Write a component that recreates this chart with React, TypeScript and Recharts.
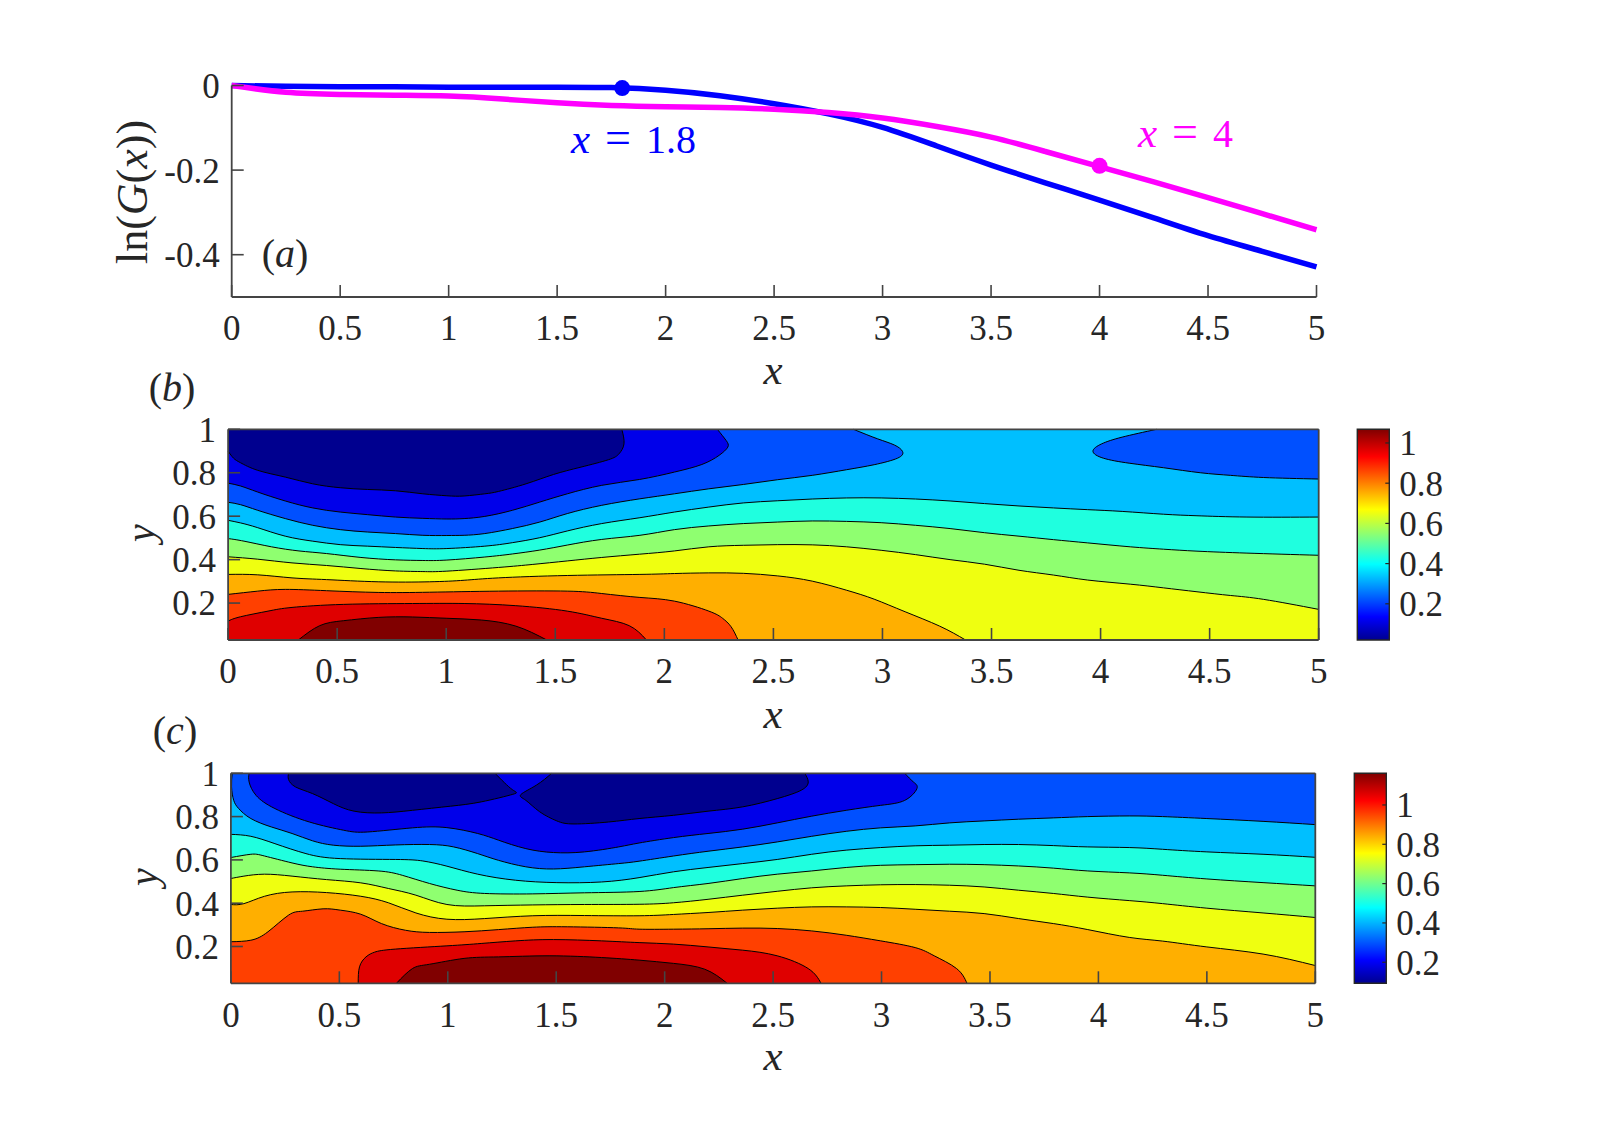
import React from 'react';
import { ComposedChart, Area, Line, Bar, XAxis, YAxis, ReferenceDot } from 'recharts';

type P = [number, number];
const SERIF = '"Liberation Serif", "Times New Roman", serif';
const INK = '#262626';
const FRAME = '#444444';

const xTicks = [0, 0.5, 1, 1.5, 2, 2.5, 3, 3.5, 4, 4.5, 5];
const yTicksA = [0, -0.2, -0.4];
const yTicksContour = [0.2, 0.4, 0.6, 0.8, 1];
const barTicksB = [0.2, 0.4, 0.6, 0.8, 1];
const barTicksC = [0.2, 0.4, 0.6, 0.8, 1];
const barSpanB: P = [0.02, 1.068];
const barSpanC: P = [0.093, 1.161];
const Y_MIN = 0.03;
const Y_MAX = 1;

const gx = [0, 0.25, 0.5, 0.75, 1, 1.25, 1.5, 1.75, 2, 2.25, 2.5, 2.75, 3, 3.25, 3.5, 3.75, 4, 4.25, 4.5, 4.75, 5];
const gBlue = [0, -0.002, -0.003, -0.003, -0.004, -0.004, -0.004, -0.005, -0.011, -0.024, -0.043, -0.067, -0.099, -0.143, -0.188, -0.23, -0.271, -0.313, -0.355, -0.392, -0.429];
const gMagenta = [0, -0.016, -0.021, -0.023, -0.025, -0.032, -0.041, -0.047, -0.05, -0.052, -0.056, -0.064, -0.077, -0.097, -0.122, -0.156, -0.192, -0.228, -0.265, -0.303, -0.341];
const markBlue: P = [1.8, -0.006];
const markMagenta: P = [4, -0.19];

const NAVY = '#00008F';
const BLUE = '#0000EA';
const MID = '#0050FF';
const LIGHT = '#00BFFF';
const CYAN = '#1FFFDF';
const GREEN = '#8FFF70';
const YELLOW = '#EFFF10';
const ORANGE = '#FFAF00';
const REDORANGE = '#FF4000';
const RED = '#DF0000';
const DARK = '#800000';

const wholeDomain: P[] = [[0, Y_MAX], [5, Y_MAX]];

// panel (b) contour lines
const bNavy: P[] = [[0, 0.899], [0.025, 0.867], [0.057, 0.846], [0.136, 0.811], [0.262, 0.78], [0.388, 0.749], [0.514, 0.731], [0.64, 0.723], [0.767, 0.717], [0.893, 0.703], [1.003, 0.694], [1.082, 0.693], [1.177, 0.703], [1.24, 0.714], [1.366, 0.749], [1.492, 0.792], [1.618, 0.826], [1.744, 0.86], [1.792, 0.887], [1.815, 0.933], [1.805, 1]];
const bBlue: P[] = [[0, 0.752], [0.057, 0.739], [0.136, 0.711], [0.262, 0.67], [0.388, 0.638], [0.514, 0.619], [0.64, 0.607], [0.767, 0.596], [0.893, 0.59], [1.003, 0.587], [1.082, 0.589], [1.177, 0.599], [1.303, 0.627], [1.429, 0.665], [1.555, 0.703], [1.713, 0.742], [1.886, 0.769], [2.046, 0.803], [2.172, 0.838], [2.251, 0.88], [2.291, 0.918], [2.283, 0.949], [2.243, 1]];
const bMid: P[] = [[0, 0.664], [0.057, 0.653], [0.136, 0.627], [0.262, 0.589], [0.388, 0.558], [0.514, 0.538], [0.64, 0.527], [0.767, 0.52], [0.893, 0.512], [1.003, 0.511], [1.082, 0.512], [1.177, 0.52], [1.303, 0.543], [1.429, 0.573], [1.555, 0.612], [1.713, 0.65], [1.888, 0.68], [2.046, 0.703], [2.204, 0.726], [2.362, 0.746], [2.52, 0.768], [2.678, 0.788], [2.836, 0.814], [2.962, 0.837], [3.069, 0.867], [3.092, 0.898], [3.054, 0.928], [2.978, 0.956], [2.867, 1]];
const bMidBlob: P[] = [[4.257, 1], [4.099, 0.964], [4.005, 0.933], [3.965, 0.899], [4.013, 0.867], [4.131, 0.844], [4.289, 0.823], [4.457, 0.8], [4.595, 0.788], [4.748, 0.778], [5, 0.771]];
const bCyan: P[] = [[0, 0.581], [0.057, 0.569], [0.136, 0.547], [0.262, 0.508], [0.388, 0.485], [0.514, 0.469], [0.64, 0.462], [0.767, 0.456], [0.893, 0.451], [1.003, 0.451], [1.177, 0.462], [1.303, 0.478], [1.429, 0.501], [1.555, 0.532], [1.713, 0.566], [1.888, 0.593], [2.046, 0.619], [2.204, 0.642], [2.362, 0.661], [2.52, 0.671], [2.678, 0.679], [2.836, 0.684], [2.994, 0.684], [3.152, 0.679], [3.31, 0.67], [3.468, 0.658], [3.626, 0.647], [3.784, 0.638], [3.941, 0.63], [4.099, 0.622], [4.289, 0.609], [4.442, 0.602], [4.671, 0.596], [5, 0.596]];
const bGreen: P[] = [[0, 0.497], [0.073, 0.485], [0.199, 0.459], [0.325, 0.44], [0.451, 0.428], [0.609, 0.41], [0.767, 0.399], [0.893, 0.396], [1.003, 0.398], [1.177, 0.412], [1.303, 0.426], [1.429, 0.444], [1.555, 0.467], [1.713, 0.493], [1.888, 0.512], [2.046, 0.538], [2.204, 0.555], [2.362, 0.566], [2.52, 0.573], [2.678, 0.578], [2.836, 0.576], [2.994, 0.57], [3.152, 0.558], [3.31, 0.543], [3.468, 0.524], [3.626, 0.508], [3.784, 0.492], [3.941, 0.477], [4.136, 0.459], [4.289, 0.448], [4.442, 0.439], [4.671, 0.43], [5, 0.42]];
const bYellow: P[] = [[0, 0.413], [0.136, 0.402], [0.293, 0.385], [0.451, 0.373], [0.609, 0.359], [0.767, 0.348], [0.893, 0.345], [1.003, 0.347], [1.24, 0.364], [1.397, 0.378], [1.555, 0.394], [1.713, 0.41], [1.886, 0.425], [2.046, 0.44], [2.204, 0.459], [2.362, 0.466], [2.52, 0.469], [2.678, 0.468], [2.836, 0.459], [2.994, 0.443], [3.152, 0.423], [3.31, 0.4], [3.468, 0.379], [3.626, 0.351], [3.784, 0.329], [3.941, 0.306], [4.136, 0.287], [4.289, 0.27], [4.442, 0.252], [4.595, 0.235], [4.748, 0.217], [5, 0.171]];
const bOrange: P[] = [[0, 0.332], [0.136, 0.33], [0.293, 0.316], [0.451, 0.308], [0.688, 0.298], [0.924, 0.298], [1.082, 0.305], [1.24, 0.316], [1.555, 0.327], [1.888, 0.332], [2.046, 0.336], [2.204, 0.339], [2.362, 0.337], [2.52, 0.325], [2.678, 0.301], [2.836, 0.259], [2.962, 0.218], [3.104, 0.16], [3.262, 0.094], [3.381, 0.03]];
const bRedOrange: P[] = [[0, 0.24], [0.136, 0.255], [0.262, 0.263], [0.451, 0.257], [0.688, 0.249], [0.924, 0.25], [1.24, 0.255], [1.555, 0.255], [1.713, 0.244], [1.888, 0.226], [2.046, 0.209], [2.204, 0.163], [2.267, 0.13], [2.306, 0.091], [2.338, 0.03]];
const bRed: P[] = [[0, 0.117], [0.057, 0.137], [0.183, 0.163], [0.293, 0.18], [0.53, 0.194], [0.845, 0.198], [1.082, 0.198], [1.319, 0.188], [1.555, 0.163], [1.713, 0.13], [1.839, 0.096], [1.918, 0.03]];
const bDark: P[] = [[0.322, 0.03], [0.42, 0.096], [0.53, 0.119], [0.688, 0.134], [0.845, 0.136], [1.003, 0.13], [1.161, 0.122], [1.319, 0.094], [1.461, 0.03]];

// panel (c) contour lines
const cNavyLeft: P[] = [[0.266, 1], [0.266, 0.971], [0.298, 0.937], [0.377, 0.906], [0.472, 0.86], [0.568, 0.825], [0.694, 0.817], [0.837, 0.829], [1.012, 0.848], [1.154, 0.868], [1.3, 0.903], [1.297, 0.925], [1.218, 1]];
const cNavyRight: P[] = [[1.479, 1], [1.408, 0.945], [1.337, 0.902], [1.36, 0.875], [1.424, 0.822], [1.503, 0.78], [1.582, 0.766], [1.741, 0.775], [1.882, 0.791], [2.041, 0.806], [2.2, 0.825], [2.36, 0.845], [2.519, 0.883], [2.63, 0.922], [2.662, 0.96], [2.646, 1]];
const cBlue: P[] = [[0.084, 1], [0.084, 0.96], [0.116, 0.898], [0.203, 0.837], [0.362, 0.775], [0.52, 0.737], [0.631, 0.729], [0.837, 0.748], [0.996, 0.749], [1.138, 0.722], [1.234, 0.691], [1.36, 0.652], [1.487, 0.634], [1.63, 0.637], [1.788, 0.66], [1.882, 0.678], [2.041, 0.703], [2.2, 0.722], [2.36, 0.742], [2.519, 0.771], [2.678, 0.802], [2.837, 0.829], [2.996, 0.852], [3.107, 0.875], [3.163, 0.929], [3.147, 0.96], [3.107, 1]];
const cMid: P[] = [[0.006, 1], [0.003, 0.937], [0.013, 0.875], [0.036, 0.837], [0.092, 0.791], [0.187, 0.752], [0.282, 0.722], [0.377, 0.688], [0.472, 0.668], [0.599, 0.663], [0.758, 0.669], [0.916, 0.671], [1.027, 0.66], [1.138, 0.629], [1.234, 0.598], [1.36, 0.568], [1.487, 0.558], [1.63, 0.568], [1.788, 0.583], [1.882, 0.594], [2.041, 0.618], [2.2, 0.64], [2.36, 0.66], [2.519, 0.683], [2.678, 0.709], [2.837, 0.732], [2.996, 0.748], [3.155, 0.757], [3.314, 0.771], [3.473, 0.78], [3.632, 0.788], [3.792, 0.794], [3.951, 0.8], [4.142, 0.803], [4.296, 0.8], [4.5, 0.791], [4.759, 0.778], [5, 0.763]];
const cCyan: P[] = [[0, 0.718], [0.092, 0.709], [0.203, 0.675], [0.346, 0.629], [0.504, 0.606], [0.758, 0.602], [0.885, 0.595], [0.996, 0.571], [1.138, 0.534], [1.313, 0.506], [1.503, 0.495], [1.709, 0.498], [1.882, 0.518], [2.041, 0.545], [2.2, 0.565], [2.36, 0.583], [2.519, 0.602], [2.678, 0.626], [2.837, 0.645], [2.996, 0.657], [3.155, 0.665], [3.314, 0.668], [3.473, 0.671], [3.632, 0.671], [3.792, 0.666], [3.951, 0.66], [4.142, 0.657], [4.296, 0.649], [4.5, 0.637], [4.759, 0.626], [5, 0.612]];
const cGreen: P[] = [[0, 0.611], [0.092, 0.626], [0.155, 0.618], [0.282, 0.586], [0.377, 0.568], [0.504, 0.557], [0.679, 0.549], [0.79, 0.529], [0.916, 0.491], [1.043, 0.46], [1.17, 0.445], [1.392, 0.443], [1.63, 0.448], [1.882, 0.454], [2.041, 0.472], [2.2, 0.491], [2.36, 0.514], [2.519, 0.534], [2.678, 0.549], [2.837, 0.565], [2.996, 0.575], [3.155, 0.578], [3.314, 0.58], [3.473, 0.578], [3.632, 0.572], [3.792, 0.562], [3.951, 0.549], [4.142, 0.54], [4.296, 0.529], [4.5, 0.512], [4.759, 0.495], [5, 0.48]];
const cYellow: P[] = [[0, 0.514], [0.06, 0.525], [0.155, 0.534], [0.282, 0.525], [0.441, 0.509], [0.599, 0.494], [0.726, 0.468], [0.853, 0.437], [0.996, 0.394], [1.17, 0.388], [1.392, 0.392], [1.63, 0.394], [1.882, 0.395], [2.041, 0.402], [2.2, 0.418], [2.36, 0.437], [2.519, 0.455], [2.678, 0.471], [2.837, 0.48], [2.996, 0.485], [3.155, 0.486], [3.314, 0.483], [3.473, 0.475], [3.632, 0.46], [3.792, 0.445], [3.951, 0.428], [4.142, 0.412], [4.296, 0.398], [4.5, 0.377], [4.759, 0.355], [5, 0.334]];
const cOrange: P[] = [[0, 0.394], [0.06, 0.398], [0.155, 0.432], [0.282, 0.452], [0.441, 0.449], [0.599, 0.432], [0.726, 0.402], [0.853, 0.355], [0.996, 0.326], [1.17, 0.329], [1.392, 0.342], [1.63, 0.343], [1.882, 0.342], [2.041, 0.348], [2.2, 0.357], [2.36, 0.368], [2.519, 0.377], [2.678, 0.383], [2.837, 0.383], [2.996, 0.38], [3.155, 0.372], [3.314, 0.363], [3.473, 0.352], [3.632, 0.329], [3.792, 0.306], [3.951, 0.278], [4.142, 0.242], [4.296, 0.225], [4.5, 0.198], [4.759, 0.165], [5, 0.112]];
const cRedOrange: P[] = [[0, 0.222], [0.092, 0.229], [0.171, 0.268], [0.266, 0.345], [0.33, 0.363], [0.425, 0.374], [0.504, 0.368], [0.599, 0.349], [0.694, 0.306], [0.805, 0.275], [0.916, 0.265], [1.075, 0.268], [1.234, 0.278], [1.392, 0.289], [1.551, 0.291], [1.788, 0.286], [1.882, 0.28], [2.041, 0.28], [2.2, 0.282], [2.36, 0.285], [2.519, 0.283], [2.678, 0.272], [2.837, 0.252], [2.996, 0.226], [3.155, 0.195], [3.243, 0.157], [3.346, 0.098], [3.394, 0.03]];
const cRed: P[] = [[0.587, 0.03], [0.593, 0.106], [0.623, 0.152], [0.663, 0.174], [0.758, 0.188], [0.996, 0.203], [1.154, 0.214], [1.313, 0.226], [1.487, 0.232], [1.709, 0.226], [1.882, 0.218], [2.041, 0.211], [2.2, 0.198], [2.36, 0.183], [2.519, 0.157], [2.662, 0.098], [2.721, 0.03]];
const cDark: P[] = [[0.763, 0.03], [0.837, 0.098], [0.916, 0.118], [1.075, 0.145], [1.234, 0.152], [1.471, 0.157], [1.709, 0.149], [1.882, 0.137], [2.041, 0.122], [2.185, 0.095], [2.288, 0.03]];

type Layer = { curve: P[]; fill: string; base: number; line: boolean };
const below = (curve: P[], fill: string): Layer => ({ curve, fill, base: Y_MIN, line: true });
const above = (curve: P[], fill: string): Layer => ({ curve, fill, base: Y_MAX, line: true });

const layersB: Layer[] = [
  { curve: wholeDomain, fill: LIGHT, base: Y_MIN, line: false },
  below(bCyan, CYAN), below(bGreen, GREEN), below(bYellow, YELLOW), below(bOrange, ORANGE),
  below(bRedOrange, REDORANGE), below(bRed, RED), below(bDark, DARK),
  above(bMid, MID), above(bMidBlob, MID), above(bBlue, BLUE), above(bNavy, NAVY),
];
const layersC: Layer[] = [
  { curve: wholeDomain, fill: LIGHT, base: Y_MIN, line: false },
  below(cCyan, CYAN), below(cGreen, GREEN), below(cYellow, YELLOW), below(cOrange, ORANGE),
  below(cRedOrange, REDORANGE), below(cRed, RED), below(cDark, DARK),
  above(cMid, MID), above(cBlue, BLUE), above(cNavyLeft, NAVY), above(cNavyRight, NAVY),
];

const jetStops: [number, string][] = [[0, '#00008F'], [0.11, '#0000FF'], [0.36, '#00FFFF'], [0.62, '#FFFF00'], [0.87, '#FF0000'], [1, '#800000']];

const rows = (pts: P[]) => pts.map(([x, y]) => ({ x, y }));
const tickFont = { fontFamily: SERIF, fontSize: 35, fill: INK };
const axisLine = { stroke: FRAME, strokeWidth: 1.8 };
const tickLine = { stroke: FRAME, strokeWidth: 1.6 };
const blank = () => '';

function Tag(p: { x: number; y: number; children: React.ReactNode; size?: number; fill?: string; anchor?: string; rotate?: boolean; italic?: boolean }) {
  return (
    <text x={p.x} y={p.y} fontFamily={SERIF} fontSize={p.size ?? 40} fill={p.fill ?? INK} textAnchor={p.anchor ?? 'middle'}
      fontStyle={p.italic ? 'italic' : 'normal'} transform={p.rotate ? `rotate(-90 ${p.x} ${p.y})` : undefined}>
      {p.children}
    </text>
  );
}

const box = (top: number, height: number): React.CSSProperties => ({ position: 'absolute', left: 0, top, width: 1602, height });

function PanelA() {
  const T = 50, H = 350;
  const blue = gx.map((x, i) => ({ x, y: gBlue[i] }));
  const magenta = gx.map((x, i) => ({ x, y: gMagenta[i] }));
  return (
    <div style={box(T, H)}>
      <ComposedChart width={1602} height={H} margin={{ left: 230.7, right: 1602 - 1316.5, top: 85.5 - T, bottom: T + H - 297 - 1 }}>
        <XAxis dataKey="x" type="number" domain={[0, 5]} ticks={xTicks} interval={0} height={1} tickSize={-12} tickMargin={30.5} tick={tickFont} axisLine={axisLine} tickLine={tickLine} />
        <YAxis type="number" domain={[-0.5, 0]} ticks={yTicksA} interval={0} width={1} tickSize={-12} tickMargin={24} tick={tickFont} axisLine={axisLine} tickLine={tickLine} />
        <Line data={blue} dataKey="y" type="natural" stroke="#0000FF" strokeWidth={5.5} dot={false} isAnimationActive={false} />
        <Line data={magenta} dataKey="y" type="natural" stroke="#FF00FF" strokeWidth={5.5} dot={false} isAnimationActive={false} />
        <ReferenceDot x={markBlue[0]} y={markBlue[1]} r={8} fill="#0000FF" stroke="none" />
        <ReferenceDot x={markMagenta[0]} y={markMagenta[1]} r={8} fill="#FF00FF" stroke="none" />
        <Tag x={571} y={153 - T} size={40} fill="#0000FF" anchor="start"><tspan fontStyle="italic" fontSize={43}>x</tspan><tspan dx={15} fontSize={46}>=</tspan><tspan dx={15}>1.8</tspan></Tag>
        <Tag x={1138} y={147 - T} size={40} fill="#FF00FF" anchor="start"><tspan fontStyle="italic" fontSize={43}>x</tspan><tspan dx={15} fontSize={46}>=</tspan><tspan dx={15}>4</tspan></Tag>
        <Tag x={285} y={267 - T}>(<tspan fontStyle="italic">a</tspan>)</Tag>
        <Tag x={147} y={192 - T} size={44} rotate>ln(<tspan fontStyle="italic">G</tspan>(<tspan fontStyle="italic">x</tspan>))</Tag>
        <Tag x={773} y={384 - T} size={43} italic>x</Tag>
      </ComposedChart>
    </div>
  );
}

function Contour(p: { T: number; H: number; left: number; right: number; top: number; bottom: number; layers: Layer[]; tag: string; tagX: number; tagY: number; yLabelX: number; yLabelY: number; xLabelY: number; marginX: number }) {
  const { T, H } = p;
  return (
    <div style={box(T, H)}>
      <ComposedChart width={1602} height={H} margin={{ left: p.left - 1, right: 1602 - p.right - 1, top: p.top - T - 1, bottom: T + H - p.bottom - 1 }}>
        {p.layers.map((l, i) => (
          <Area key={i} data={rows(l.curve)} dataKey="y" type="natural" baseValue={l.base} fill={l.fill} fillOpacity={1}
            stroke={l.line ? '#000000' : 'none'} strokeWidth={1} dot={false} activeDot={false} isAnimationActive={false} />
        ))}
        <XAxis dataKey="x" type="number" domain={[0, 5]} ticks={xTicks} interval={0} height={1} tickSize={-12} tickMargin={p.marginX} tick={tickFont} axisLine={axisLine} tickLine={tickLine} />
        <XAxis xAxisId="top" orientation="top" dataKey="x" type="number" domain={[0, 5]} ticks={xTicks} interval={0} height={1} tickSize={-12} tickFormatter={blank} axisLine={axisLine} tickLine={tickLine} />
        <YAxis type="number" domain={[Y_MIN, Y_MAX]} ticks={yTicksContour} interval={0} width={1} tickSize={-12} tickMargin={24} tick={tickFont} axisLine={axisLine} tickLine={tickLine} />
        <YAxis yAxisId="right" orientation="right" type="number" domain={[Y_MIN, Y_MAX]} ticks={yTicksContour} interval={0} width={1} tickSize={-12} tickFormatter={blank} axisLine={axisLine} tickLine={tickLine} />
        <Tag x={p.tagX} y={p.tagY - T}>(<tspan fontStyle="italic">{p.tag}</tspan>)</Tag>
        <Tag x={p.yLabelX} y={p.yLabelY - T} rotate italic>y</Tag>
        <Tag x={773} y={p.xLabelY - T} size={43} italic>x</Tag>
      </ComposedChart>
    </div>
  );
}

function ColorBar(p: { id: string; T: number; H: number; left: number; right: number; top: number; bottom: number; span: P; ticks: number[] }) {
  const W = 150, L = 1340;
  const table = [{ name: 'jet', span: p.span }];
  return (
    <div style={{ position: 'absolute', left: L, top: p.T, width: W, height: p.H }}>
      <ComposedChart width={W} height={p.H} data={table} barCategoryGap={0} margin={{ left: p.left - L, right: L + W - p.right - 1, top: p.top - p.T, bottom: p.T + p.H - p.bottom }}>
        <defs>
          <linearGradient id={p.id} x1="0" y1="1" x2="0" y2="0">
            {jetStops.map(([o, c]) => <stop key={o} offset={o} stopColor={c} />)}
          </linearGradient>
        </defs>
        <XAxis dataKey="name" type="category" hide />
        <Bar dataKey="span" fill={`url(#${p.id})`} stroke={INK} strokeWidth={1.4} isAnimationActive={false} />
        <YAxis orientation="right" type="number" domain={p.span} ticks={p.ticks} interval={0} width={1} tickSize={-4} tickMargin={14} tick={tickFont} axisLine={false} tickLine={{ stroke: INK, strokeWidth: 1.2 }} />
      </ComposedChart>
    </div>
  );
}

export default function App() {
  return (
    <div style={{ position: 'absolute', left: 0, top: 0, width: 1602, height: 1146, background: '#fff', overflow: 'hidden' }}>
      <PanelA />
      <Contour T={360} H={395} left={228.1} right={1318.7} top={429.3} bottom={640} layers={layersB} tag="b" tagX={172} tagY={401} yLabelX={154} yLabelY={533} xLabelY={728} marginX={30.5} />
      <Contour T={705} H={395} left={230.9} right={1315.3} top={773.3} bottom={983.3} layers={layersC} tag="c" tagX={175} tagY={744} yLabelX={157} yLabelY={877} xLabelY={1070} marginX={30.5} />
      <ColorBar id="jetB" T={420} H={230} left={1357.3} right={1389.3} top={429.3} bottom={640} span={barSpanB} ticks={barTicksB} />
      <ColorBar id="jetC" T={765} H={230} left={1354.3} right={1386.3} top={773.3} bottom={983.3} span={barSpanC} ticks={barTicksC} />
    </div>
  );
}
